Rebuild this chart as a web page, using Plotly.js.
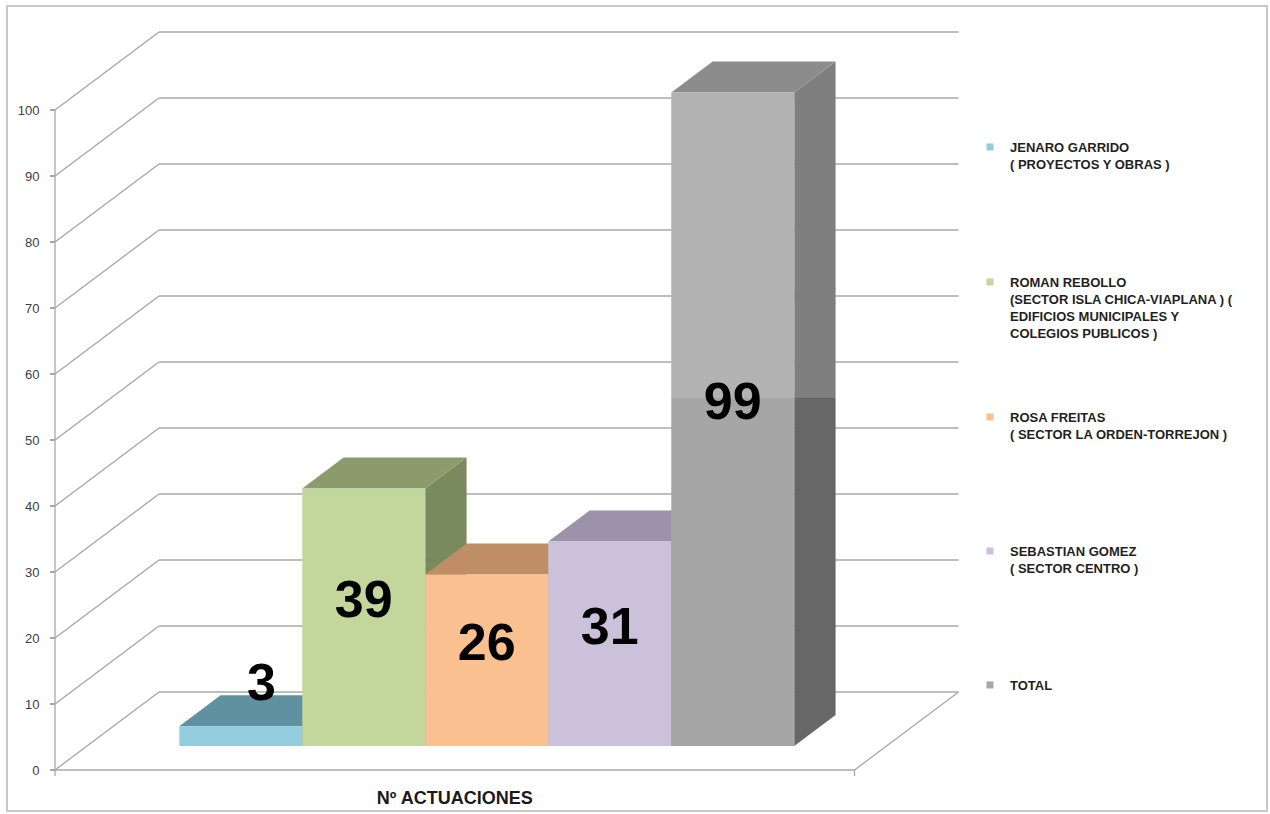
<!DOCTYPE html>
<html>
<head>
<meta charset="utf-8">
<script src="https://cdn.plot.ly/plotly-3.0.1.min.js"></script>
<style>
html,body{margin:0;padding:0;background:#ffffff;}
#chart{width:1270px;height:814px;}
</style>
</head>
<body>
<div id="chart"></div>
<script>
// ---------------- DATA ----------------
const seriesNames = [
  'JENARO GARRIDO<br>( PROYECTOS Y OBRAS )',
  'ROMAN REBOLLO<br>(SECTOR ISLA CHICA-VIAPLANA ) (<br>EDIFICIOS MUNICIPALES Y<br>COLEGIOS PUBLICOS )',
  'ROSA FREITAS<br>( SECTOR LA ORDEN-TORREJON )',
  'SEBASTIAN GOMEZ<br>( SECTOR CENTRO )',
  'TOTAL'
];
const values = [3, 39, 26, 31, 99];
const categoryLabel = 'Nº ACTUACIONES';
const yTickValues = [0, 10, 20, 30, 40, 50, 60, 70, 80, 90, 100];

// ---------------- STYLE ----------------
const frontColors = ['#93cddd', '#c3d69b', '#fac090', '#ccc1da', '#a6a6a6'];
const frontUpperColors = [null, null, null, null, '#b3b3b3'];
const topColors = ['#5f91a1', '#8b9b6b', '#bf8d66', '#9c92a9', '#8c8c8c'];
const sideColors = ['#4f7f8f', '#7a8a5f', '#a97b56', '#877d94', '#676767'];
const sideUpperColors = [null, null, null, null, '#7f7f7f'];
const SHADE_SPLIT = 0.533;          // lighting break on the TOTAL bar (fraction of its height)
const gridColor = '#a8a8a8';
const FONT = 'Liberation Sans, Arial, sans-serif';

// pixel geometry of the oblique projection
const PLOT_L = 45, PLOT_R = 970, PLOT_T = 20, PLOT_B = 785;
const ORIGIN_X = 55, ORIGIN_Y = 770;   // front-left floor corner
const PX_U = 123, PX_V = 6.6;          // px per category unit, px per value unit
const DEPTH_U = 104 / PX_U, DEPTH_V = 78 / PX_V;
const GAP = 0.75;                      // floor margin each side of the bars
const D0 = 24 / 78, D1 = 55 / 78;      // bar front / back depth
const nCat = values.length;
const floorW = GAP * 2 + nCat;

function P(u, v, d) { return [u + d * DEPTH_U, v + d * DEPTH_V]; }

const xRange = [(PLOT_L - ORIGIN_X) / PX_U, (PLOT_R - ORIGIN_X) / PX_U];
const yRange = [-(PLOT_B - ORIGIN_Y) / PX_V, (ORIGIN_Y - PLOT_T) / PX_V];

const traces = [];

// walls / floor grid
(function () {
  const xs = [], ys = [];
  function seg(a, b) { xs.push(a[0], b[0], null); ys.push(a[1], b[1], null); }
  yTickValues.forEach(t => {
    seg(P(0, t, 0), P(0, t, 1));
    seg(P(0, t, 1), P(floorW, t, 1));
  });
  // floor front and right edge
  xs.push(P(0, 0, 0)[0], P(floorW, 0, 0)[0], P(floorW, 0, 1)[0], null);
  ys.push(P(0, 0, 0)[1], P(floorW, 0, 0)[1], P(floorW, 0, 1)[1], null);
  // small category ticks below floor front
  seg([0, 0], [0, -6 / PX_V]);
  seg([floorW, 0], [floorW, -6 / PX_V]);
  // value axis line
  seg([0, 0], [0, yTickValues[yTickValues.length - 1]]);
  traces.push({
    type: 'scatter', mode: 'lines', x: xs, y: ys,
    line: { color: gridColor, width: 1.3 }, hoverinfo: 'skip', showlegend: false
  });
})();

function poly(pts, color, upper, splitV) {
  const tr = {
    type: 'scatter', mode: 'lines', fill: 'toself', fillcolor: color,
    x: pts.map(p => p[0]).concat([pts[0][0]]),
    y: pts.map(p => p[1]).concat([pts[0][1]]),
    line: { width: 0, color: color }, hoverinfo: 'skip', showlegend: false
  };
  if (upper) {
    tr.fillgradient = {
      type: 'vertical',
      colorscale: [[0, color], [1, upper]],
      start: splitV - 0.05, stop: splitV + 0.05
    };
  }
  return tr;
}

values.forEach((v, i) => {
  const x0 = GAP + i, x1 = x0 + 1;
  const splitV = D0 * DEPTH_V + v * SHADE_SPLIT;
  traces.push(poly([P(x1, 0, D0), P(x1, 0, D1), P(x1, v, D1), P(x1, v, D0)], sideColors[i], sideUpperColors[i], splitV));
  traces.push(poly([P(x0, v, D0), P(x1, v, D0), P(x1, v, D1), P(x0, v, D1)], topColors[i], null));
  traces.push(poly([P(x0, 0, D0), P(x1, 0, D0), P(x1, v, D0), P(x0, v, D0)], frontColors[i], frontUpperColors[i], splitV));
});

// value labels
const lx = [], ly = [];
values.forEach((v, i) => {
  const cx = GAP + i + 0.5;
  if (v >= 10) {
    const p = P(cx, v / 2 + 2, D0);
    lx.push(p[0]); ly.push(p[1]);
  } else {
    const p = P(cx, v + 6, (D0 + D1) / 2);
    lx.push(p[0]); ly.push(p[1] - (D0 + D1) / 2 * DEPTH_V + D0 * DEPTH_V);
  }
});
traces.push({
  type: 'scatter', mode: 'text', x: lx, y: ly, text: values.map(String),
  textposition: 'middle center', cliponaxis: false,
  textfont: { family: FONT, size: 52, weight: 'bold', color: '#000000' },
  hoverinfo: 'skip', showlegend: false
});

// legend entries
const legendFirstLineY = [147, 282, 417, 551, 685];
const layoutLegends = {};
seriesNames.forEach((name, i) => {
  const key = i === 0 ? 'legend' : 'legend' + (i + 1);
  traces.push({
    type: 'scatter', mode: 'markers', x: [null], y: [null], name: name,
    legend: key,
    marker: { symbol: 'square', size: 7, color: frontColors[i] },
    hoverinfo: 'skip', showlegend: true
  });
  layoutLegends[key] = {
    xref: 'container', yref: 'container',
    x: 970 / 1270, y: 1 - (legendFirstLineY[i] - 15) / 814,
    xanchor: 'left', yanchor: 'top', valign: 'top',
    bgcolor: 'rgba(0,0,0,0)', borderwidth: 0,
    font: { family: FONT, size: 13, weight: 'bold', color: '#1f1f1f' }
  };
});

const pw = PLOT_R - PLOT_L, ph = PLOT_B - PLOT_T;
const layout = Object.assign({
  width: 1270, height: 814,
  margin: { l: PLOT_L, r: 1270 - PLOT_R, t: PLOT_T, b: 814 - PLOT_B, pad: 0 },
  paper_bgcolor: '#ffffff', plot_bgcolor: 'rgba(0,0,0,0)',
  showlegend: true,
  xaxis: {
    range: xRange, fixedrange: true, showgrid: false, zeroline: false, showline: false,
    tickmode: 'array', tickvals: [floorW / 2], ticktext: [categoryLabel], ticks: '',
    tickfont: { family: FONT, size: 18, weight: 'bold', color: '#1a1a1a' }
  },
  yaxis: {
    range: yRange, fixedrange: true, showgrid: false, zeroline: false, showline: false,
    anchor: 'free', position: (ORIGIN_X - PLOT_L) / pw,
    tickmode: 'array', tickvals: yTickValues, ticks: 'outside', ticklen: 5,
    tickcolor: gridColor, tickwidth: 1.3, ticklabelstandoff: 8,
    tickfont: { family: FONT, size: 13, color: '#404040' }
  },
  shapes: [{
    type: 'rect', xref: 'paper', yref: 'paper',
    x0: (7 - PLOT_L) / pw, x1: (1267 - PLOT_L) / pw,
    y0: (PLOT_B - 811) / ph, y1: (PLOT_B - 6) / ph,
    line: { color: '#c8c8c8', width: 2 }, fillcolor: 'rgba(0,0,0,0)'
  }]
}, layoutLegends);

Plotly.newPlot('chart', traces, layout, { displayModeBar: false, staticPlot: true });
</script>
</body>
</html>
